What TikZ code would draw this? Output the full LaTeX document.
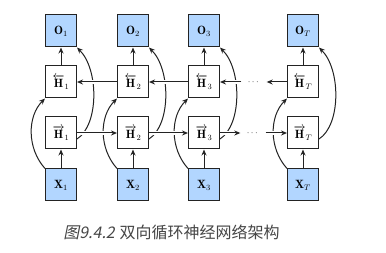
\documentclass[tikz,border=0pt]{standalone}
\usepackage{fontspec}
\usepackage{amsmath}
\newfontfamily\cjk{Noto Sans CJK SC}
\newfontfamily\cjksl{Noto Sans CJK SC}[FakeSlant=0.2]
\usetikzlibrary{arrows.meta}
\definecolor{boxblue}{RGB}{178,214,255}
\definecolor{edgecol}{RGB}{35,35,35}
\definecolor{captiongray}{RGB}{70,70,70}
\begin{document}
\begin{tikzpicture}[x=1pt,y=-1pt,
 cell/.style={draw=edgecol,line width=1pt,fill=white,minimum width=31pt,minimum height=32pt,inner sep=0pt,font=\fontsize{12}{14}\selectfont},
 io/.style={cell,fill=boxblue},
 arr/.style={draw=edgecol,line width=1pt,-{Stealth[length=6pt,width=5pt]}},
 halo/.style={arr,preaction={draw=white,line width=4pt,-,shorten >=2.5pt,shorten <=2.5pt}},
 dotsn/.style={minimum width=25pt,inner sep=0pt,font=\small}]
\fill[white] (0,0) rectangle (386,253);
\useasboundingbox (0,0) rectangle (386,253);
\foreach \n/\x in {1/61,2/133,3/204,T/303}{
  \node[io]   (O\n)  at (\x,31)  {$\mathbf{O}_{\n}$};
  \node[cell] (Hb\n) at (\x,82)  {$\overleftarrow{\mathbf{H}}_{\n}$};
  \node[cell] (Hf\n) at (\x,133) {$\overrightarrow{\mathbf{H}}_{\n}$};
  \node[io]   (X\n)  at (\x,185) {$\mathbf{X}_{\n}$};
  \draw[arr] (X\n) -- (Hf\n);
  \draw[arr] (Hb\n) -- (O\n);
  \draw[arr] (X\n.north west) .. controls +(-18,-20) and +(-18,18) .. (Hb\n.south west);
  \draw[arr] ([yshift=-6pt]Hf\n.east) .. controls +(22,-14) and +(22,22) .. (O\n.south east);
}
\node[dotsn] (dF) at (253,133) {$\cdots$};
\node[dotsn] (dB) at (254,82) {$\cdots$};
\draw[halo] (Hf1) -- (Hf2);
\draw[halo] (Hf2) -- (Hf3);
\draw[halo] (Hf3) -- (dF);
\draw[halo] (dF) -- (HfT);
\draw[halo] (HbT) -- (dB);
\draw[halo] (dB) -- (Hb3);
\draw[halo] (Hb3) -- (Hb2);
\draw[halo] (Hb2) -- (Hb1);
\node[text=captiongray,inner sep=0pt] (cap) at (171.5,232) {\fontsize{16}{18}\selectfont{\cjksl 图9.4.2} {\cjk 双向循环神经网络架构}};
\end{tikzpicture}
\end{document}
